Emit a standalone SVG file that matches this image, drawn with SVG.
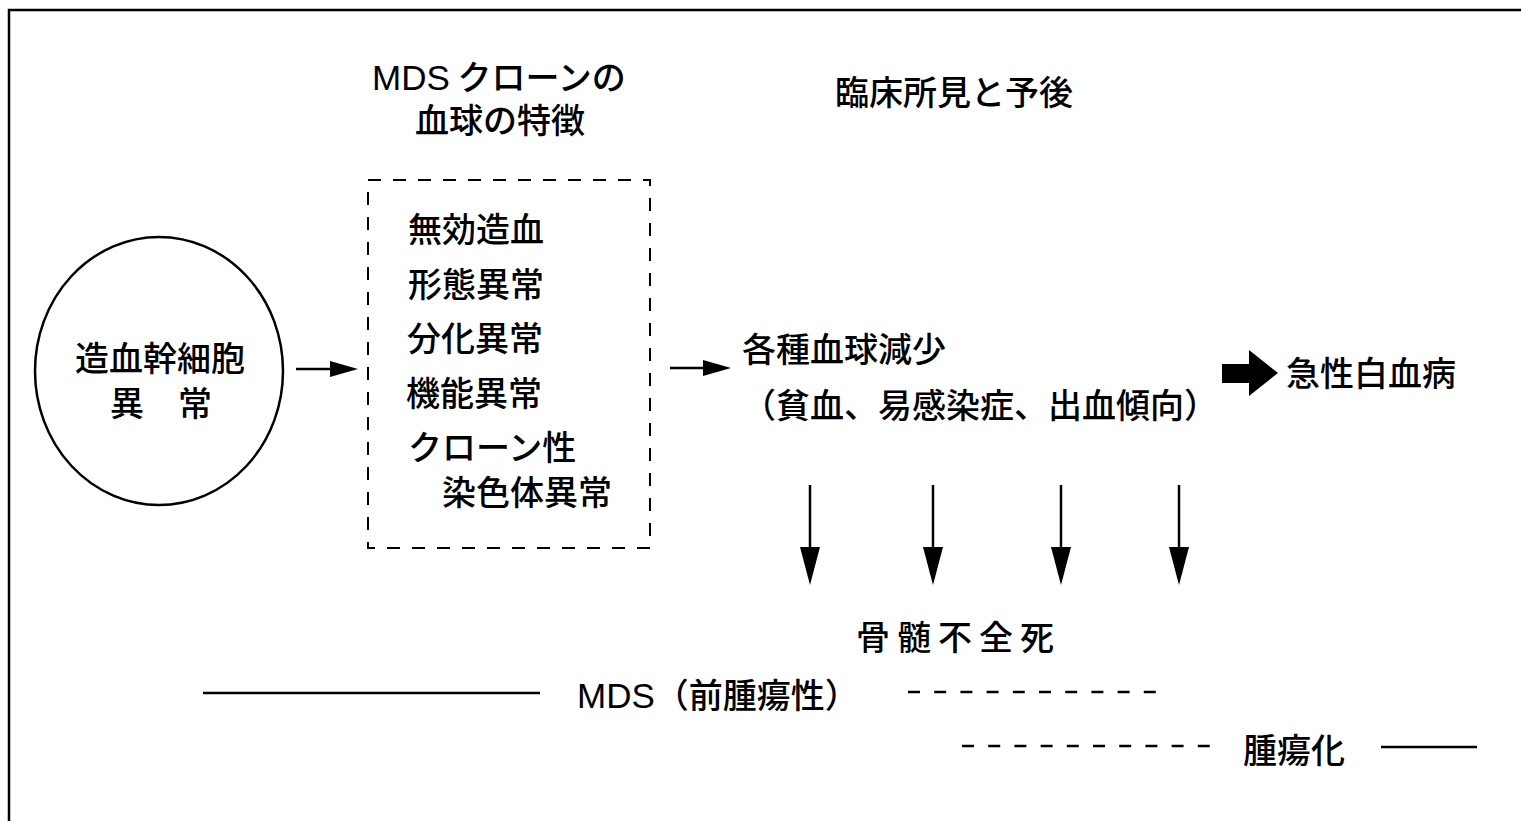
<svg xmlns="http://www.w3.org/2000/svg" width="1521" height="821" viewBox="0 0 1521 821">
  <style>
    .t { font-family: "Noto Sans CJK JP", "Noto Sans CJK SC", sans-serif; font-size: 34px; font-weight: 500; fill: #000; }
    .lat { font-family: "Liberation Sans", Arial, sans-serif; font-size: 35px; font-weight: normal; }
    .ln { stroke: #000; stroke-width: 2.5; fill: none; }
    .dash { stroke: #000; stroke-width: 2; fill: none; stroke-dasharray: 13 12; }
    .dl { stroke: #000; stroke-width: 2.5; fill: none; stroke-dasharray: 12 14.2; }
  </style>
  <defs>
    <marker id="ah" markerUnits="userSpaceOnUse" markerWidth="28" markerHeight="16" refX="20" refY="8" orient="auto">
      <path d="M0,0 L28,8 L0,16 z" fill="#000"/>
    </marker>
    <marker id="ahd" markerUnits="userSpaceOnUse" markerWidth="38" markerHeight="20" refX="30" refY="10" orient="auto">
      <path d="M0,0 L38,10 L0,20 z" fill="#000"/>
    </marker>
  </defs>
  <rect width="1521" height="821" fill="#fff"/>

  <g id="frame">
    <path class="ln" stroke-width="3" d="M9,821 L9,10 L1521,10"/>
  </g>

  <g id="header-mds">
    <text class="t" x="372" y="90"><tspan class="lat">MDS</tspan> クローンの</text>
    <text class="t" x="415" y="133">血球の特徴</text>
  </g>

  <g id="header-clinical">
    <text class="t" x="835" y="105">臨床所見と予後</text>
  </g>

  <g id="stem-cell">
    <ellipse cx="159" cy="371" rx="124" ry="134" class="ln" stroke-width="2"/>
    <text class="t" x="160" y="371" text-anchor="middle">造血幹細胞</text>
    <text class="t" x="161" y="416" text-anchor="middle">異　常</text>
  </g>

  <g id="features">
    <rect x="368" y="180" width="282" height="368" class="dash"/>
    <text class="t" x="408" y="242">無効造血</text>
    <text class="t" x="408" y="297">形態異常</text>
    <text class="t" x="407" y="351">分化異常</text>
    <text class="t" x="406" y="406">機能異常</text>
    <text class="t" x="408" y="460">クローン性</text>
    <text class="t" x="442" y="505">染色体異常</text>
  </g>

  <g id="cytopenia">
    <text class="t" x="742" y="362">各種血球減少</text>
    <text class="t" x="742" y="418">（貧血、易感染症、出血傾向）</text>
  </g>

  <g id="leukemia">
    <text class="t" x="1286" y="386">急性白血病</text>
  </g>

  <g id="marrow-failure">
    <text class="t" x="856" y="650" letter-spacing="7">骨髄不全死</text>
  </g>

  <g id="phase-mds">
    <text class="t" x="577" y="708"><tspan class="lat">MDS</tspan>（前腫瘍性）</text>
  </g>

  <g id="phase-neoplastic">
    <text class="t" x="1243" y="763">腫瘍化</text>
  </g>

  <g id="connectors">
    <line class="ln" x1="296" y1="369" x2="350" y2="369" marker-end="url(#ah)"/>
    <line class="ln" x1="670" y1="368" x2="723" y2="368" marker-end="url(#ah)"/>
    <polygon points="1222,364 1249,364 1249,350 1278,373 1249,396 1249,383 1222,383" fill="#000"/>
    <line class="ln" x1="810" y1="485" x2="810" y2="577" marker-end="url(#ahd)"/>
    <line class="ln" x1="933" y1="485" x2="933" y2="577" marker-end="url(#ahd)"/>
    <line class="ln" x1="1061" y1="485" x2="1061" y2="577" marker-end="url(#ahd)"/>
    <line class="ln" x1="1179" y1="485" x2="1179" y2="577" marker-end="url(#ahd)"/>
    <line class="ln" x1="203" y1="693" x2="540" y2="693"/>
    <line class="dl" x1="908" y1="692" x2="1157" y2="692"/>
    <line class="dl" x1="962" y1="746" x2="1210" y2="746"/>
    <line class="ln" x1="1381" y1="747" x2="1477" y2="747"/>
  </g>
</svg>
